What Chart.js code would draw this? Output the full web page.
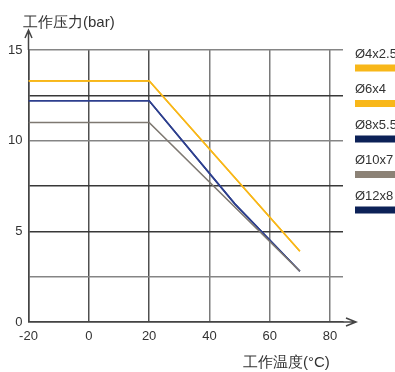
<!DOCTYPE html>
<html>
<head>
<meta charset="utf-8">
<script src="https://cdn.jsdelivr.net/npm/chart.js@4"></script>
<style>
  html, body { margin: 0; padding: 0; background: #fff; }
  #wrap { width: 395px; height: 372px; position: relative; }
</style>
</head>
<body>
<div id="wrap"><canvas id="chart" width="395" height="372"></canvas></div>
<script>
// temperature points (°C)
const temps = [-20, 20, 48.5, 70];
const tempsShort = [-20, 20, 70];

// working pressure (bar) per tube size
const d4x25 = [13.3, 13.3, 3.9];
const d6x4 = [13.3, 13.3, 3.9];
const d8x55 = [12.2, 12.2, 6.5, 2.8];
const d10x7 = [11.0, 11.0, 2.8];
const d12x8 = [12.2, 12.2, 6.5, 2.8];

const seriesNames = ['Ø4x2.5', 'Ø6x4', 'Ø8x5.5', 'Ø10x7', 'Ø12x8'];
const legendColors = ['#f8b719', '#f8b719', '#0c2157', '#8c8276', '#0c2157'];
const lineColors = ['#f8b719', '#f8b719', '#2d3f8e', '#7e7871', '#2d3f8e'];

const xTicks = [-20, 0, 20, 40, 60, 80];
const yTicks = [0, 2.5, 5, 7.5, 10, 12.5, 15];
const yLabels = [0, 5, 10, 15];

const toPts = (xs, ys) => ys.map((v, i) => ({ x: xs[i], y: v }));

const allData = [
  toPts(tempsShort, d4x25),
  toPts(tempsShort, d6x4),
  toPts(temps, d8x55),
  toPts(tempsShort, d10x7),
  toPts(temps, d12x8)
];

const font = '"Liberation Sans", Arial, sans-serif';

const extras = {
  id: 'extras',
  afterDraw(chart) {
    const ctx = chart.ctx;
    const xs = chart.scales.x, ys = chart.scales.y;
    const x0 = xs.getPixelForValue(-20);
    const y0 = ys.getPixelForValue(0);
    const yTop = ys.getPixelForValue(15);
    ctx.save();
    ctx.strokeStyle = '#444';
    ctx.lineWidth = 1.5;
    // y axis arrow
    ctx.beginPath();
    ctx.moveTo(x0, yTop);
    ctx.lineTo(x0, 30);
    ctx.moveTo(x0 - 3.5, 38);
    ctx.lineTo(x0, 30);
    ctx.lineTo(x0 + 3.5, 38);
    ctx.stroke();
    // x axis arrow
    ctx.beginPath();
    ctx.moveTo(chart.chartArea.right, y0);
    ctx.lineTo(356, y0);
    ctx.moveTo(346, y0 - 4);
    ctx.lineTo(356, y0);
    ctx.lineTo(346, y0 + 4);
    ctx.stroke();

    // axis titles
    ctx.fillStyle = '#333';
    ctx.font = '15px ' + font;
    ctx.textBaseline = 'middle';
    ctx.textAlign = 'left';
    ctx.fillText('工作压力(bar)', 23, 23);
    ctx.fillText('工作温度(°C)', 243, 363);

    // legend: label above a colour bar
    ctx.font = '13px ' + font;
    seriesNames.forEach((name, i) => {
      const ty = 54 + i * 35.5;
      ctx.fillStyle = '#333';
      ctx.fillText(name, 355, ty);
      ctx.fillStyle = legendColors[i];
      ctx.fillRect(355, ty + 10.5, 40, 7);
    });
    ctx.restore();
  }
};

const darkY = [0, 5, 7.5, 12.5];
const darkX = [-20, 0, 20];

new Chart(document.getElementById('chart'), {
  type: 'line',
  data: {
    datasets: seriesNames.map((name, i) => ({
      label: name,
      data: allData[i],
      borderColor: lineColors[i],
      backgroundColor: lineColors[i],
      borderWidth: 1.6,
      pointRadius: 0,
      tension: 0,
      order: [3, 3, 4, 2, 4][i]
    }))
  },
  options: {
    responsive: false,
    animation: false,
    events: [],
    layout: { padding: { top: 50, right: 52, left: 0, bottom: 0 } },
    plugins: { legend: { display: false }, tooltip: { enabled: false } },
    scales: {
      x: {
        type: 'linear',
        min: -20,
        max: 84.3,
        afterBuildTicks: s => { s.ticks = xTicks.map(v => ({ value: v })); },
        afterFit: s => { s.height = 50; },
        grid: {
          drawTicks: false,
          lineWidth: 1.5,
          color: c => darkX.includes(c.tick && c.tick.value) ? '#505050' : '#7a7a7a'
        },
        border: { display: true, color: '#444', width: 1.5 },
        ticks: {
          padding: 7,
          color: '#333',
          font: { family: font, size: 13 },
          maxRotation: 0,
          callback: v => String(v)
        }
      },
      y: {
        min: 0,
        max: 15,
        afterBuildTicks: s => { s.ticks = yTicks.map(v => ({ value: v })); },
        afterFit: s => { s.width = 28.5; },
        grid: {
          drawTicks: false,
          lineWidth: 1.5,
          color: c => darkY.includes(c.tick && c.tick.value) ? '#383838' : '#858585'
        },
        border: { display: true, color: '#444', width: 1.5 },
        ticks: {
          padding: 6,
          color: '#333',
          font: { family: font, size: 13 },
          callback: v => yLabels.includes(v) ? String(v) : ''
        }
      }
    }
  },
  plugins: [extras]
});
</script>
</body>
</html>
